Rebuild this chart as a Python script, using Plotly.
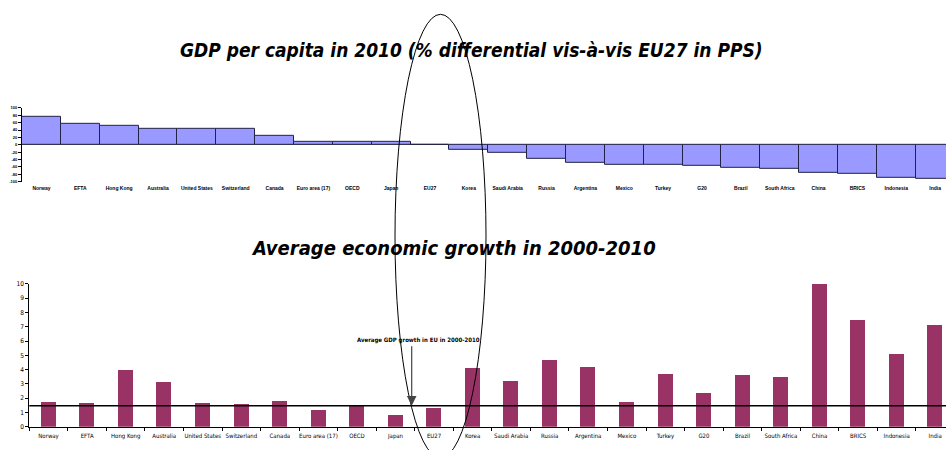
import plotly.graph_objects as go

W, H = 946, 450

countries = ["Norway", "EFTA", "Hong Kong", "Australia", "United States", "Switzerland",
             "Canada", "Euro area (17)", "OECD", "Japan", "EU27", "Korea", "Saudi Arabia",
             "Russia", "Argentina", "Mexico", "Turkey", "G20", "Brazil", "South Africa",
             "China", "BRICS", "Indonesia", "India"]
gdp_pc_diff = [76, 56, 52, 44, 44, 44, 23, 7, 7, 7, 0, -13, -21, -39, -49, -54, -53,
               -58, -63, -66, -77, -79, -88, -91]
growth = [1.74, 1.67, 3.97, 3.12, 1.67, 1.60, 1.83, 1.15, 1.44, 0.80, 1.33, 4.10, 3.20,
          4.65, 4.17, 1.74, 3.69, 2.38, 3.62, 3.48, 9.98, 7.48, 5.13, 7.13]
eu_avg_growth = 1.47
top_ticks = [100, 80, 60, 40, 20, 0, -20, -40, -60, -80, -100]
bottom_ticks = list(range(0, 11))

title_top = "GDP per capita in 2010 (% differential vis-à-vis EU27 in PPS)"
title_bottom = "Average economic growth in 2000-2010"
arrow_text = "Average GDP growth in EU in 2000-2010"

NARROW = "Liberation Sans Narrow, DejaVu Sans Condensed, Arial Narrow, sans-serif"


def px(x):
    return x / W


def py(y):
    return 1 - y / H


fig = go.Figure()
fig.add_trace(go.Bar(x=countries, y=gdp_pc_diff, xaxis="x", yaxis="y",
                     marker=dict(color="#9999FF", line=dict(color="#222244", width=1)),
                     showlegend=False))
fig.add_trace(go.Bar(x=countries, y=growth, xaxis="x2", yaxis="y2",
                     marker=dict(color="#993366", line=dict(width=0)), width=0.39,
                     showlegend=False))

fig.update_layout(
    width=W, height=H,
    margin=dict(l=0, r=0, t=0, b=0),
    paper_bgcolor="white", plot_bgcolor="white",
    bargap=0,
    xaxis=dict(domain=[px(22), 1], anchor="y", range=[-0.5, 23.28], showline=False,
               showgrid=False, ticks="", ticklabelstandoff=2,
               tickfont=dict(family="Liberation Sans", size=5, color="black", weight="bold"),
               tickangle=0, fixedrange=True),
    yaxis=dict(domain=[py(181), py(105.7)], anchor="x", range=[-100, 100],
               tickvals=top_ticks, ticktext=[str(t) for t in top_ticks],
               showline=True, linecolor="black", linewidth=1, ticks="outside", ticklen=3,
               tickcolor="black", showgrid=False, zeroline=True, zerolinecolor="#808080",
               zerolinewidth=1,
               tickfont=dict(family="Liberation Sans", size=4, color="black", weight="bold")),
    xaxis2=dict(domain=[px(29.3), 1], anchor="y2", range=[-0.5, 23.28], showline=True,
                linecolor="black", linewidth=1, ticks="outside", tickson="boundaries",
                ticklen=3, tickcolor="black", showgrid=False, tickangle=0,
                ticklabelstandoff=3,
                tickfont=dict(family=NARROW, size=6, color="black")),
    yaxis2=dict(domain=[py(430.3), py(285)], anchor="x2", range=[0, 10],
                tickvals=bottom_ticks, showline=True, linecolor="black", linewidth=1,
                ticks="outside", ticklen=3, tickcolor="black", showgrid=False,
                zeroline=False, tickfont=dict(family=NARROW, size=6.5, color="black")),
)

# EU average growth line
fig.add_shape(type="line", xref="paper", yref="y2", x0=px(29.3), x1=1,
              y0=eu_avg_growth, y1=eu_avg_growth, line=dict(color="black", width=1.5))

# Titles
fig.add_annotation(text=title_top, xref="paper", yref="paper", x=px(471), y=py(47),
                   showarrow=False, xanchor="center", yanchor="middle",
                   font=dict(family=NARROW, size=19, color="black", weight="bold",
                             style="italic"))
fig.add_annotation(text=title_bottom, xref="paper", yref="paper", x=px(453), y=py(248),
                   showarrow=False, xanchor="center", yanchor="middle",
                   font=dict(family=NARROW, size=20, color="black", weight="bold",
                             style="italic"))

# Arrow annotation
fig.add_annotation(text=arrow_text, xref="paper", yref="paper", x=px(418), y=py(342),
                   showarrow=False, xanchor="center", yanchor="middle",
                   font=dict(family=NARROW, size=6, color="black", weight="bold"))
fig.add_annotation(text="", xref="paper", yref="y2", x=px(411.7), y=eu_avg_growth,
                   showarrow=True, ax=0, ay=-61, arrowhead=2, arrowsize=1.6,
                   arrowwidth=1.2, arrowcolor="#444444")

# Ellipse
fig.add_shape(type="circle", xref="paper", yref="paper", x0=px(395), x1=px(486),
              y0=py(462), y1=py(10.5), line=dict(color="black", width=1))

fig.write_html("out.html")
